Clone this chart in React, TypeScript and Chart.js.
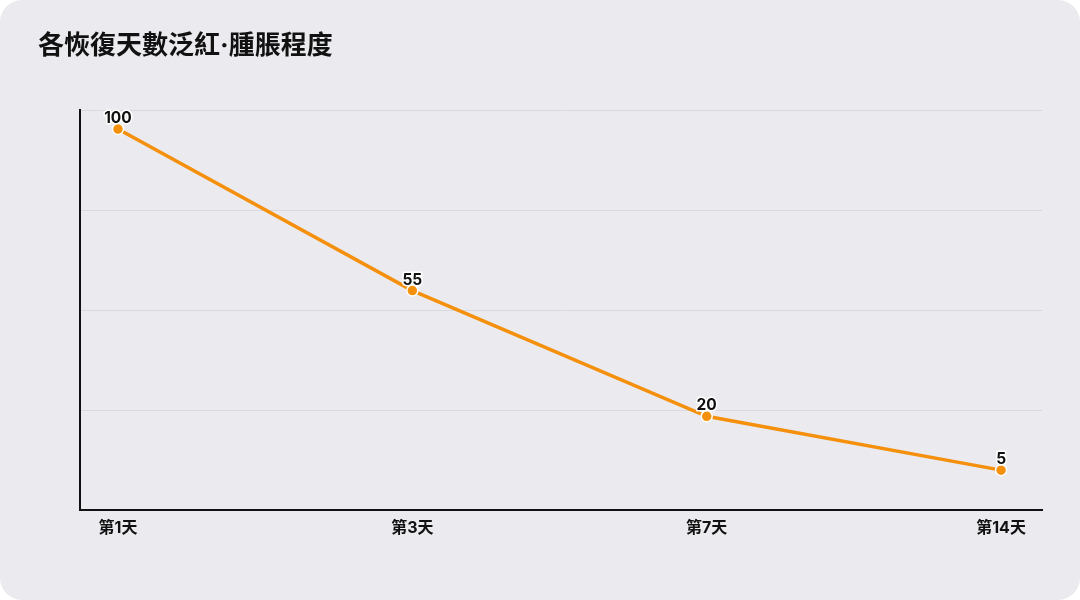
import React, { useEffect, useRef } from 'react';
import { Chart, registerables } from 'chart.js';

Chart.register(...registerables);

const title = '各恢復天數泛紅·腫脹程度';
const dayLabels = ['第1天', '第3天', '第7天', '第14天'];
const rednessValues = [100, 55, 20, 5];

const FONT = "Inter, 'Noto Sans CJK TC', 'Noto Sans', sans-serif";
const LINE_COLOR = '#F5900C';

// draws the value above every point, with a white halo
const pointLabels = {
  id: 'pointLabels',
  afterDatasetsDraw(chart: any) {
    const ctx = chart.ctx;
    const meta = chart.getDatasetMeta(0);
    ctx.save();
    ctx.font = `bold 15.5px ${FONT}`;
    ctx.textAlign = 'center';
    ctx.textBaseline = 'alphabetic';
    ctx.lineJoin = 'round';
    meta.data.forEach((pt: any, i: number) => {
      const text = String(rednessValues[i]);
      ctx.lineWidth = 3;
      ctx.strokeStyle = '#ffffff';
      ctx.strokeText(text, pt.x, pt.y - 6);
      ctx.fillStyle = '#111111';
      ctx.fillText(text, pt.x, pt.y - 6);
    });
    ctx.restore();
  },
};

const App: React.FC = () => {
  const canvasRef = useRef<HTMLCanvasElement | null>(null);
  const chartRef = useRef<Chart | null>(null);

  useEffect(() => {
    if (!canvasRef.current) return;
    document.body.style.margin = '0';

    chartRef.current = new Chart(canvasRef.current, {
      type: 'line',
      data: {
        datasets: [
          {
            data: rednessValues.map((v, i) => ({ x: i, y: v })),
            borderColor: LINE_COLOR,
            backgroundColor: LINE_COLOR,
            borderWidth: 3.5,
            pointRadius: 5.5,
            pointHoverRadius: 5.5,
            pointBorderColor: '#ffffff',
            pointBorderWidth: 1.5,
            pointBackgroundColor: LINE_COLOR,
            tension: 0,
          },
        ],
      },
      options: {
        animation: false,
        responsive: true,
        maintainAspectRatio: false,
        layout: { padding: { left: 0, right: 38, top: 110, bottom: 0 } },
        plugins: {
          legend: { display: false },
          tooltip: { enabled: false },
        },
        scales: {
          x: {
            type: 'linear',
            min: -0.129,
            max: 3.139,
            afterFit: (scale: any) => {
              scale.height = 90;
            },
            afterBuildTicks: (scale: any) => {
              scale.ticks = dayLabels.map((_, i) => ({ value: i }));
            },
            grid: { display: false, drawTicks: false },
            border: { display: true, color: '#111111', width: 2 },
            ticks: {
              padding: 9,
              color: '#111111',
              font: { family: FONT, size: 16, weight: 'bold' },
              callback: (v: any) => dayLabels[v] ?? '',
            },
          },
          y: {
            min: -6.1,
            max: 105.3,
            afterFit: (scale: any) => {
              scale.width = 80;
            },
            ticks: { display: false, count: 5 },
            grid: { color: '#d9d8de', lineWidth: 1, drawTicks: false },
            border: { display: true, color: '#111111', width: 2 },
          },
        },
      },
      plugins: [pointLabels],
    } as any);

    return () => {
      if (chartRef.current) {
        chartRef.current.destroy();
        chartRef.current = null;
      }
    };
  }, []);

  return (
    <div style={{ position: 'relative', width: 1080, height: 600, background: '#ffffff' }}>
      <div
        style={{
          position: 'absolute',
          inset: 0,
          background: '#ebeaef',
          borderRadius: 22,
          overflow: 'hidden',
        }}
      >
        <div
          style={{
            position: 'absolute',
            left: 38,
            top: 28,
            fontFamily: FONT,
            fontWeight: 700,
            fontSize: 26,
            lineHeight: '34px',
            color: '#111111',
            zIndex: 1,
          }}
        >
          {title}
        </div>
        <div style={{ position: 'absolute', inset: 0 }}>
          <canvas ref={canvasRef}></canvas>
        </div>
      </div>
    </div>
  );
};

export default App;
